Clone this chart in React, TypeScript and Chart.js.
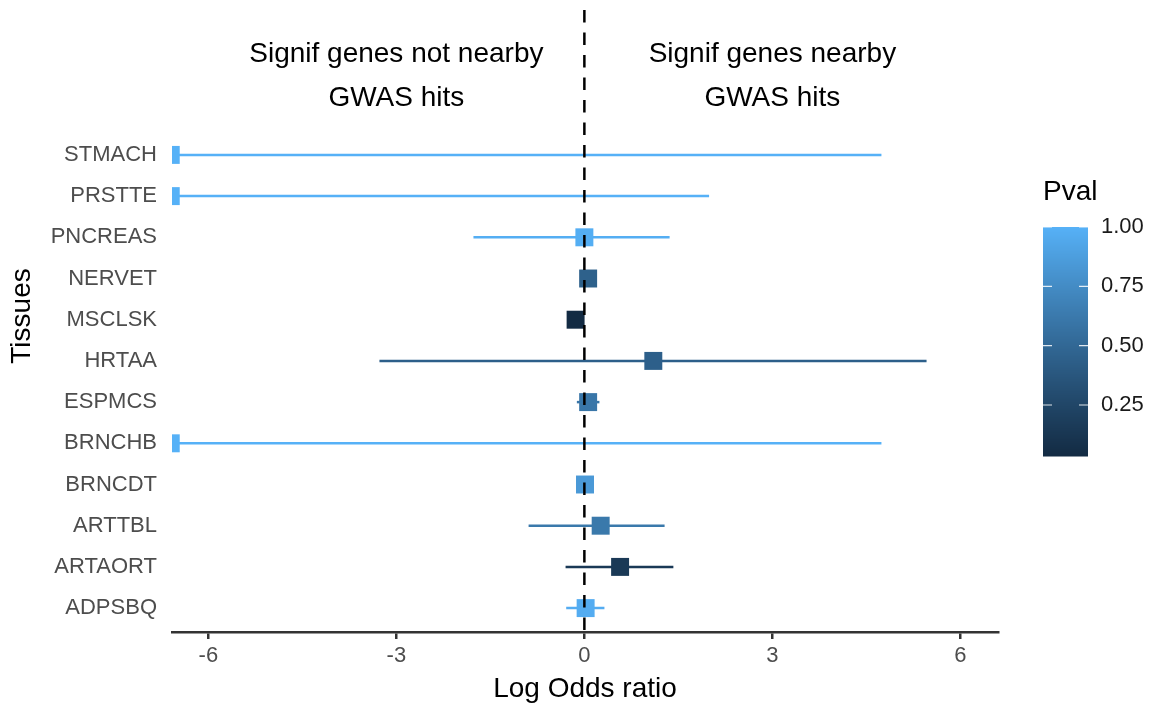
import React, { useEffect, useRef } from "react";
import { Chart, registerables } from "chart.js";

Chart.register(...registerables);

// ---------- data ----------
const tissues = ["STMACH", "PRSTTE", "PNCREAS", "NERVET", "MSCLSK", "HRTAA", "ESPMCS", "BRNCHB", "BRNCDT", "ARTTBL", "ARTAORT", "ADPSBQ"];
const estimates = [-6.6, -6.6, 0.0, 0.06, -0.14, 1.1, 0.06, -6.6, 0.01, 0.26, 0.57, 0.02];
const lowerCI = [-6.6, -6.6, -1.77, 0.0, -0.2, -3.27, -0.12, -6.6, -0.05, -0.89, -0.3, -0.29];
const upperCI = [4.74, 1.99, 1.36, 0.12, -0.08, 5.46, 0.24, 4.74, 0.1, 1.28, 1.42, 0.32];
const pvals = [1.0, 1.0, 0.98, 0.45, 0.035, 0.44, 0.6, 1.0, 0.84, 0.62, 0.15, 0.97];
const xTicks = [-6, -3, 0, 3, 6];
const legendTicks = [0.25, 0.5, 0.75, 1.0];
const annotationLeft = ["Signif genes not nearby", "GWAS hits"];
const annotationRight = ["Signif genes nearby", "GWAS hits"];
const annotationXs = [-3, 3];
const annotationY = 13.9;
const yMin = 0.42;
const yMax = 15.76;

const LOW = "#132B43";
const HIGH = "#56B1F7";
const FONT = '"Liberation Sans", Arial, Helvetica, sans-serif';

// ---------- colour helpers (Lab interpolation like ggplot) ----------
function hexToRgb(h: string) {
  const n = parseInt(h.slice(1), 16);
  return [(n >> 16) & 255, (n >> 8) & 255, n & 255];
}
function toLin(c: number) {
  c /= 255;
  return c <= 0.04045 ? c / 12.92 : Math.pow((c + 0.055) / 1.055, 2.4);
}
function fromLin(c: number) {
  const v = c <= 0.0031308 ? 12.92 * c : 1.055 * Math.pow(c, 1 / 2.4) - 0.055;
  return Math.max(0, Math.min(255, Math.round(v * 255)));
}
const WX = 0.95047, WY = 1.0, WZ = 1.08883;
function f(t: number) {
  return t > 0.008856 ? Math.cbrt(t) : 7.787 * t + 16 / 116;
}
function finv(t: number) {
  return t * t * t > 0.008856 ? t * t * t : (t - 16 / 116) / 7.787;
}
function rgbToLab(rgb: number[]) {
  const [r, g, b] = rgb.map(toLin);
  const x = (r * 0.4124 + g * 0.3576 + b * 0.1805) / WX;
  const y = (r * 0.2126 + g * 0.7152 + b * 0.0722) / WY;
  const z = (r * 0.0193 + g * 0.1192 + b * 0.9505) / WZ;
  const fx = f(x), fy = f(y), fz = f(z);
  return [116 * fy - 16, 500 * (fx - fy), 200 * (fy - fz)];
}
function labToRgb(lab: number[]) {
  const fy = (lab[0] + 16) / 116;
  const fx = fy + lab[1] / 500;
  const fz = fy - lab[2] / 200;
  const x = finv(fx) * WX, y = finv(fy) * WY, z = finv(fz) * WZ;
  const r = x * 3.2406 + y * -1.5372 + z * -0.4986;
  const g = x * -0.9689 + y * 1.8758 + z * 0.0415;
  const b = x * 0.0557 + y * -0.204 + z * 1.057;
  return [fromLin(r), fromLin(g), fromLin(b)];
}
const labLow = rgbToLab(hexToRgb(LOW));
const labHigh = rgbToLab(hexToRgb(HIGH));
const pMin = Math.min(...pvals);
const pMax = Math.max(...pvals);
function pColor(p: number) {
  const t = Math.max(0, Math.min(1, (p - pMin) / (pMax - pMin)));
  const lab = [0, 1, 2].map((i) => labLow[i] + (labHigh[i] - labLow[i]) * t);
  const [r, g, b] = labToRgb(lab);
  return `rgb(${r},${g},${b})`;
}

// ---------- plugins ----------
const overlayPlugin = {
  id: "overlay",
  afterDraw(chart: any) {
    const { ctx } = chart;
    const xs = chart.scales.x;
    const ys = chart.scales.y;
    ctx.save();
    // annotations
    ctx.fillStyle = "#000";
    ctx.font = `28px ${FONT}`;
    ctx.textAlign = "center";
    ctx.textBaseline = "middle";
    const yc = ys.getPixelForValue(annotationY);
    [annotationLeft, annotationRight].forEach((lines, j) => {
      const px = xs.getPixelForValue(annotationXs[j]);
      lines.forEach((t, k) => ctx.fillText(t, px, yc + (k - (lines.length - 1) / 2) * 44));
    });

    // colourbar legend
    const x0 = 1043, w = 45, top = 227, bottom = 456;
    const h = bottom - top;
    for (let y = top; y < bottom; y++) {
      const p = pMin + ((bottom - (y + 0.5)) / h) * (pMax - pMin);
      ctx.fillStyle = pColor(p);
      ctx.fillRect(x0, y, w, 1.5);
    }
    ctx.fillStyle = "#000";
    ctx.textAlign = "left";
    ctx.textBaseline = "middle";
    ctx.font = `28px ${FONT}`;
    ctx.fillText("Pval", x0, 192);
    ctx.font = `22px ${FONT}`;
    ctx.strokeStyle = "rgba(255,255,255,0.85)";
    ctx.lineWidth = 1.2;
    legendTicks.forEach((v) => {
      const y = bottom - ((v - pMin) / (pMax - pMin)) * h;
      ctx.beginPath();
      ctx.moveTo(x0, y);
      ctx.lineTo(x0 + 9, y);
      ctx.moveTo(x0 + w - 9, y);
      ctx.lineTo(x0 + w, y);
      ctx.stroke();
      ctx.fillStyle = "#1a1a1a";
      ctx.fillText(v.toFixed(2), x0 + w + 13, y);
    });
    ctx.restore();
  },
};

export default function App() {
  const ref = useRef<HTMLCanvasElement | null>(null);
  useEffect(() => {
    if (!ref.current) return;
    const yOf = (i: number) => tissues.length - i;
    const errorSets = tissues.map((t, i) => ({
      type: "line" as const,
      label: t,
      data: [
        { x: lowerCI[i], y: yOf(i) },
        { x: upperCI[i], y: yOf(i) },
      ],
      borderColor: pColor(pvals[i]),
      borderWidth: 2.5,
      pointRadius: 0,
      showLine: true,
      clip: 0,
      order: 3,
    }));
    const pointSet = {
      type: "scatter" as const,
      label: "est",
      data: tissues.map((t, i) => ({ x: estimates[i], y: yOf(i) })),
      pointStyle: "rect",
      pointRadius: 12.7,
      pointBorderWidth: 0,
      pointBackgroundColor: pvals.map((p) => pColor(p)),
      pointBorderColor: pvals.map((p) => pColor(p)),
      clip: 0,
      order: 2,
    };
    const vline = {
      type: "line" as const,
      label: "zero",
      data: [
        { x: 0, y: yMax },
        { x: 0, y: yMin },
      ],
      borderColor: "#000",
      borderWidth: 2.5,
      borderDash: [12.5, 10],
      borderDashOffset: 12.5,
      pointRadius: 0,
      showLine: true,
      clip: 0,
      order: 1,
    };
    const chart = new Chart(ref.current, {
      type: "scatter",
      data: { datasets: [...errorSets, pointSet, vline] as any },
      plugins: [overlayPlugin],
      options: {
        animation: false,
        responsive: false,
        layout: { autoPadding: false, padding: { left: 0, right: 158, top: 0, bottom: 0 } },
        plugins: { legend: { display: false }, tooltip: { enabled: false } },
        scales: {
          x: {
            type: "linear",
            min: -6.58,
            max: 6.6,
            afterBuildTicks: (s: any) => {
              s.ticks = xTicks.map((v) => ({ value: v }));
            },
            afterFit: (s: any) => {
              s.height = 72;
              s.paddingLeft = 0;
              s.paddingRight = 0;
            },
            border: { display: true, color: "#333", width: 2.5 },
            grid: { drawOnChartArea: false, drawTicks: true, tickLength: 7, color: "#333", lineWidth: 2.5 },
            ticks: { color: "#4d4d4d", font: { family: FONT, size: 22 }, padding: 4, maxRotation: 0, callback: (v: any) => String(v) },
            title: { display: true, text: "Log Odds ratio", color: "#000", font: { family: FONT, size: 28, lineHeight: 1 }, padding: { top: 0, bottom: 1 } },
          },
          y: {
            type: "linear",
            min: yMin,
            max: yMax,
            afterBuildTicks: (s: any) => {
              s.ticks = tissues.map((t, i) => ({ value: tissues.length - i }));
            },
            afterFit: (s: any) => {
              s.width = 172;
              s.paddingTop = 0;
              s.paddingBottom = 0;
            },
            border: { display: false },
            grid: { display: false, drawTicks: false },
            ticks: {
              color: "#4d4d4d",
              font: { family: FONT, size: 22 },
              padding: 15,
              callback: (v: any) => tissues[tissues.length - Number(v)] ?? "",
            },
            title: { display: true, text: "Tissues", color: "#000", font: { family: FONT, size: 28, lineHeight: 1 }, padding: { top: 8, bottom: 0 } },
          },
        },
      } as any,
    });
    return () => chart.destroy();
  }, []);
  return (
    <div style={{ position: "fixed", left: 0, top: 0, width: 1156, height: 704, background: "#fff" }}>
      <canvas ref={ref} width={1156} height={704} style={{ display: "block", width: 1156, height: 704 }} />
    </div>
  );
}
